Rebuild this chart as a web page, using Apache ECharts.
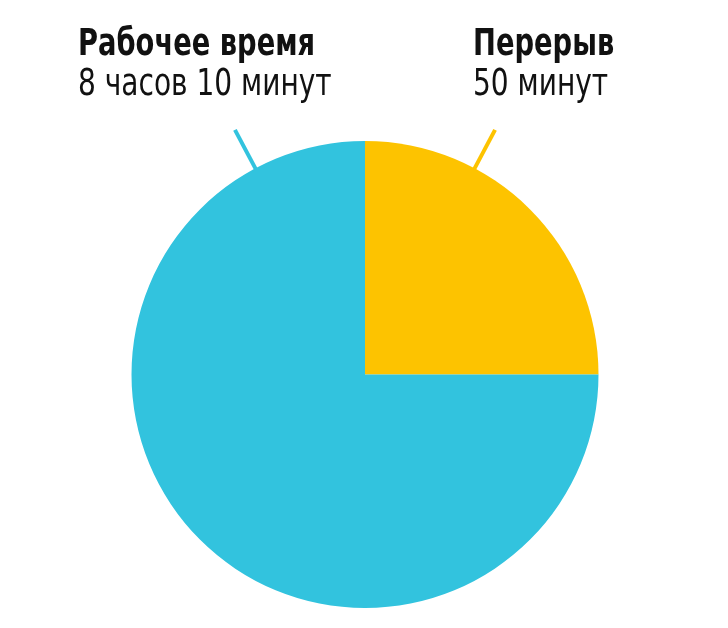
<!DOCTYPE html>
<html>
<head>
<meta charset="UTF-8">
<title>Рабочее время</title>
<script src="https://cdn.jsdelivr.net/npm/echarts@6/dist/echarts.min.js"></script>
<style>
  html, body { margin: 0; padding: 0; background: #fff; }
  #main { width: 728px; height: 628px; }
</style>
</head>
<body>
<div id="main"></div>
<script>
// доли рабочего дня (как на картинке: четверть и три четверти)
var names = ['Перерыв', 'Рабочее время'];
var values = [25, 75];
var subtitles = ['50 минут', '8 часов 10 минут'];
var colors = ['#FDC300', '#32C3DE'];

var cx = 365, cy = 374.5, r = 233.5;
var font = '"Liberation Sans Narrow", "DejaVu Sans Condensed", sans-serif';

// короткие засечки у края круга
function tick(angleDeg, color) {
    var a = angleDeg * Math.PI / 180;
    return {
        type: 'line',
        silent: true,
        shape: {
            x1: cx + Math.sin(a) * (r - 2), y1: cy - Math.cos(a) * (r - 2),
            x2: cx + Math.sin(a) * 277, y2: cy - Math.cos(a) * 277
        },
        style: { stroke: color, lineWidth: 4 }
    };
}

// шрифт в оригинале узкий, поэтому сжимаем по горизонтали
function label(x, title, sub) {
    return [
        { type: 'text', x: x, y: 26, scaleX: 0.8, style: { text: title, font: 'bold 38px ' + font, fill: '#111' } },
        { type: 'text', x: x, y: 66, scaleX: 0.82, style: { text: sub, font: '38px ' + font, fill: '#111' } }
    ];
}

var myChart = echarts.init(document.getElementById('main'));
myChart.setOption({
    animation: false,
    series: [{
        type: 'pie',
        center: [cx, cy],
        radius: r,
        startAngle: 90,
        clockwise: true,
        label: { show: false },
        labelLine: { show: false },
        emphasis: { disabled: true },
        data: names.map(function (n, i) {
            return { name: n, value: values[i], itemStyle: { color: colors[i] } };
        })
    }],
    graphic: [].concat(
        tick(28, colors[0]),
        tick(-28, colors[1]),
        label(78, names[1], subtitles[1]),
        label(473, names[0], subtitles[0])
    )
});
</script>
</body>
</html>
